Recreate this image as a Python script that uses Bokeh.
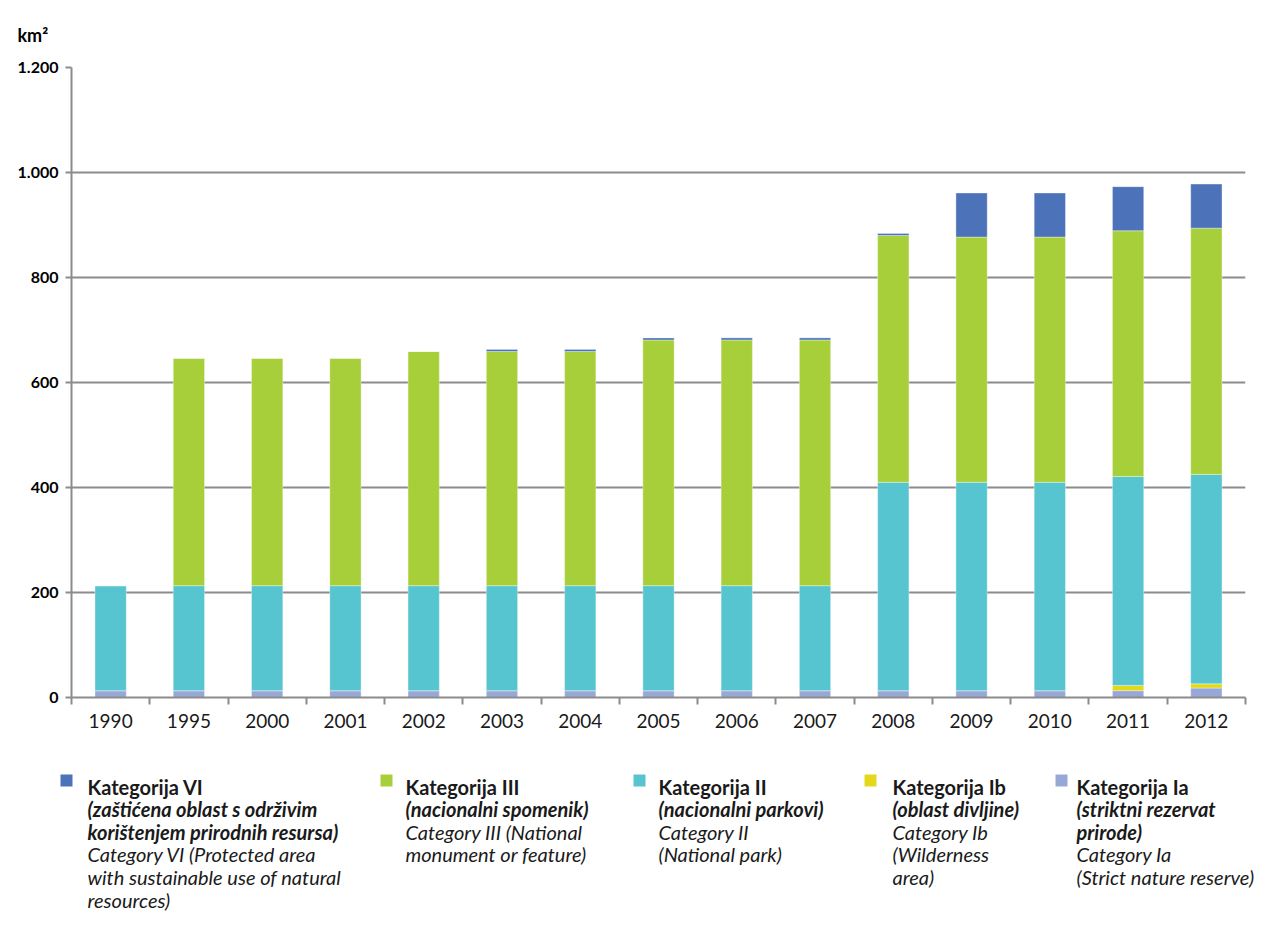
from bokeh.plotting import figure
from bokeh.models import Range1d, FixedTicker, ColumnDataSource
from bokeh.embed import file_html
from bokeh.resources import INLINE
from bokeh.core.properties import value

# ---------------- data ----------------
years = ["1990", "1995", "2000", "2001", "2002", "2003", "2004", "2005",
         "2006", "2007", "2008", "2009", "2010", "2011", "2012"]
cat_ia = [13, 13, 13, 13, 13, 13, 13, 13, 13, 13, 13, 13, 13, 13, 18]
cat_ib = [0, 0, 0, 0, 0, 0, 0, 0, 0, 0, 0, 0, 0, 10, 8]
cat_ii = [200, 200, 200, 200, 200, 200, 200, 200, 200, 200, 397, 397, 397, 398, 399]
cat_iii = [0, 433, 433, 433, 446, 446, 446, 468, 468, 468, 470, 467, 467, 468, 469]
cat_vi = [0, 0, 0, 0, 0, 4, 4, 4, 4, 4, 4, 84, 84, 84, 84]

y_ticks = [0, 200, 400, 600, 800, 1000, 1200]
y_tick_labels = ["0", "200", "400", "600", "800", "1.000", "1.200"]
unit_label = "km²"

series_keys = ["ia", "ib", "ii", "iii", "vi"]
series_colors = ["#98a8d6", "#e3d81c", "#57c5cf", "#a7cf3a", "#4c73b9"]

legend_order = ["vi", "iii", "ii", "ib", "ia"]
legend_titles = ["Kategorija VI", "Kategorija III", "Kategorija II",
                 "Kategorija Ib", "Kategorija Ia"]
legend_local = [["(zaštićena oblast s održivim", "korištenjem prirodnih resursa)"],
                ["(nacionalni spomenik)"],
                ["(nacionalni parkovi)"],
                ["(oblast divljine)"],
                ["(striktni rezervat", "prirode)"]]
legend_english = [["Category VI (Protected area", "with sustainable use of natural", "resources)"],
                  ["Category III (National", "monument or feature)"],
                  ["Category II", "(National park)"],
                  ["Category Ib", "(Wilderness", "area)"],
                  ["Category Ia", "(Strict nature reserve)"]]

FONT = "Lato"
GREY = "#8c8c8c"
TXT = "#1a1a1a"

# ---------------- layout (page pixels) ----------------
W = 1264
H_MAIN = 736
H_LEG = 176
F_LEFT, F_RIGHT, F_TOP, F_BOTTOM = 71, 1245, 67, 697

# ---------------- main chart ----------------
idx = list(range(len(years)))
src = ColumnDataSource(dict(x=idx, ia=cat_ia, ib=cat_ib, ii=cat_ii, iii=cat_iii, vi=cat_vi))

p = figure(width=W, height=H_MAIN, output_backend="svg", toolbar_location=None,
           x_range=Range1d(-0.5, len(years) - 0.5), y_range=Range1d(0, 1200),
           min_border_left=F_LEFT, min_border_right=W - F_RIGHT,
           min_border_top=F_TOP, min_border_bottom=H_MAIN - F_BOTTOM,
           title=unit_label)
p.outline_line_color = None
p.title.text_font = FONT
p.title.text_font_size = "18px"
p.title.text_font_style = "bold"
p.title.text_color = "#000000"
p.title.align = "left"
p.title.offset = -54
p.title.standoff = 43

p.vbar_stack(series_keys, x="x", width=0.4, source=src, color=series_colors,
             line_color="white", line_width=0.6, line_alpha=0.6)

xa = p.xaxis[0]
xa.ticker = FixedTicker(ticks=idx, minor_ticks=[i - 0.5 for i in range(len(years) + 1)])
xa.major_label_overrides = {i: y for i, y in zip(idx, years)}
xa.major_tick_line_color = None
xa.minor_tick_out = 7
xa.minor_tick_in = 0
xa.minor_tick_line_color = GREY
xa.minor_tick_line_width = 2
xa.axis_line_color = GREY
xa.axis_line_width = 2
xa.major_label_text_font = FONT
xa.major_label_text_font_size = "19px"
xa.major_label_text_color = TXT
xa.major_label_standoff = 9

ya = p.yaxis[0]
ya.ticker = FixedTicker(ticks=y_ticks, minor_ticks=[])
ya.major_label_overrides = {t: l for t, l in zip(y_ticks, y_tick_labels)}
ya.major_tick_out = 6
ya.major_tick_in = 0
ya.major_tick_line_color = GREY
ya.major_tick_line_width = 2
ya.axis_line_color = GREY
ya.axis_line_width = 2
ya.major_label_text_font = FONT
ya.major_label_text_font_size = "16px"
ya.major_label_text_font_style = "bold"
ya.major_label_text_color = "#000000"
ya.major_label_standoff = 7

p.xgrid.grid_line_color = None
p.ygrid.ticker = FixedTicker(ticks=y_ticks[1:])
p.ygrid.grid_line_color = GREY
p.ygrid.grid_line_width = 2

# ---------------- legend (separate root, page-pixel coordinates) ----------------
lg = figure(width=W, height=H_LEG, output_backend="svg", toolbar_location=None,
            x_range=Range1d(0, W), y_range=Range1d(H_MAIN + H_LEG, H_MAIN),
            x_axis_type=None, y_axis_type=None, min_border=0)
lg.outline_line_color = None
lg.xgrid.visible = False
lg.ygrid.visible = False

col_sq_x = [66, 386, 639, 870, 1061]
col_txt_x = [87, 405, 658, 892, 1076]
base0 = 786
line_h = 22.6
LSIZE = "20px"

sq_x, sq_y, sq_c = [], [], []
styles = {"bold": ([], [], []), "bold italic": ([], [], []), "italic": ([], [], [])}
for k, key in enumerate(legend_order):
    sq_x.append(col_sq_x[k])
    sq_y.append(base0 - 6)
    sq_c.append(series_colors[series_keys.index(key)])
    lines = [(legend_titles[k], "bold")]
    lines += [(s, "bold italic") for s in legend_local[k]]
    lines += [(s, "italic") for s in legend_english[k]]
    for row, (s, st) in enumerate(lines):
        xs, ys, ts = styles[st]
        xs.append(col_txt_x[k])
        ys.append(base0 + row * line_h)
        ts.append(s)

lg.scatter(x=sq_x, y=sq_y, marker="square", size=12, color=sq_c, line_color=None)
for st, (xs, ys, ts) in styles.items():
    lg.text(x=xs, y=ys, text=ts, text_font=value(FONT), text_font_size=LSIZE,
            text_font_style=st, text_color=TXT, text_baseline="alphabetic",
            text_align="left")

open("out.html", "w").write(file_html([p, lg], INLINE))
